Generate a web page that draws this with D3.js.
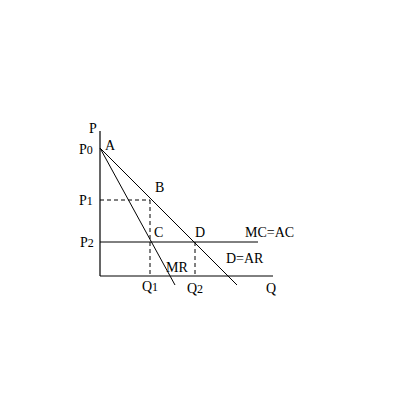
<!DOCTYPE html>
<html><head><meta charset="utf-8">
<script src="https://cdn.jsdelivr.net/npm/d3@7"></script>
<style>body{margin:0;background:#fff}</style>
</head><body>
<svg id="c" width="400" height="400"></svg>
<script>
// Economic quantities (abstract units)
const axisMax = {q: 173, p: 145};
const prices = {P0: 128, P1: 76, P2: 34};
const quantities = {Q1: 50, Q2: 95};
const demandLine = [[0, 128], [137, -9]];     // D=AR
const mrLine = [[0, 128], [75, -9]];          // MR
const mcLine = [[0, 34], [158, 34]];          // MC=AC

const svg = d3.select("#c");
const x = d3.scaleLinear().domain([0, axisMax.q]).range([100, 273]);
const y = d3.scaleLinear().domain([0, axisMax.p]).range([276, 131]);
const font = "'Liberation Serif','DejaVu Serif',serif";

function line(pts, dash, w, col) {
  svg.append("line")
    .attr("x1", x(pts[0][0])).attr("y1", y(pts[0][1]))
    .attr("x2", x(pts[1][0])).attr("y2", y(pts[1][1]))
    .attr("stroke", col || "#000").attr("stroke-width", w || 1)
    .attr("stroke-dasharray", dash || null);
}
// axes
line([[0, 0], [0, axisMax.p]], null, 1.5, "#333");
line([[0, 0], [axisMax.q, 0]]);
// dashed guides
line([[0, prices.P1], [quantities.Q1, prices.P1]], "4,3");
line([[quantities.Q1, prices.P1], [quantities.Q1, 0]], "4,3");
line([[quantities.Q2, prices.P2], [quantities.Q2, 0]], "4,3");
// curves
line(mcLine);
line(demandLine);
line(mrLine);

function label(txt, sub, px, py, anchor) {
  const t = svg.append("text").attr("x", px).attr("y", py)
    .attr("font-family", font).attr("font-size", 14)
    .attr("text-anchor", anchor || "start").attr("fill", "#000");
  t.append("tspan").text(txt);
  if (sub) t.append("tspan").attr("font-size", 12).text(sub);
}
label("P", null, x(0) - 11, y(axisMax.p) + 2);
label("P", "0", x(0) - 21, y(prices.P0) + 6);
label("A", null, x(0) + 5, y(prices.P0) + 2);
label("P", "1", x(0) - 21, y(prices.P1) + 5);
label("B", null, x(52) + 3, y(prices.P1) - 8);
label("P", "2", x(0) - 20, y(prices.P2) + 5);
label("C", null, x(quantities.Q1) + 4, y(prices.P2) - 5);
label("D", null, x(quantities.Q2), y(prices.P2) - 5);
label("MC=AC", null, x(mcLine[1][0]) - 13, y(prices.P2) - 5);
label("D=AR", null, x(126), y(prices.P2) + 21);
label("MR", null, x(66), y(4));
label("Q", "1", x(quantities.Q1), y(0) + 15, "middle");
label("Q", "2", x(quantities.Q2), y(0) + 17, "middle");
label("Q", null, x(171), y(0) + 17, "middle");
</script>
</body></html>
